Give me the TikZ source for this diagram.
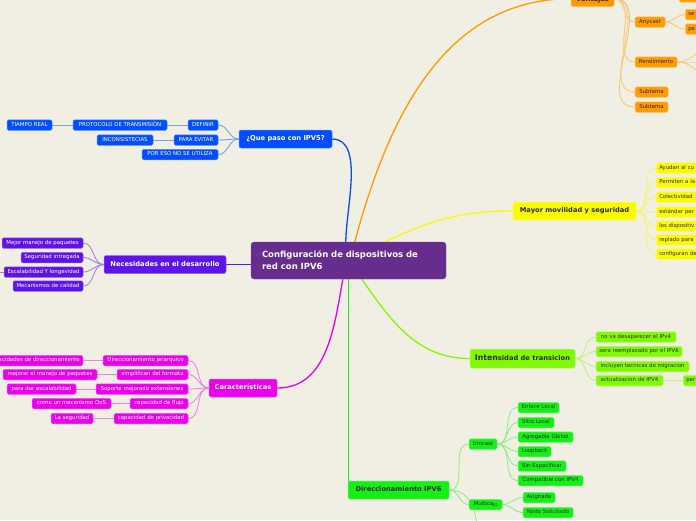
\documentclass[tikz,border=0pt]{standalone}
\usepackage{fontspec}
\setmainfont{DejaVu Sans}
\usetikzlibrary{backgrounds}
\definecolor{bgc}{RGB}{241,238,227}
\definecolor{cen}{RGB}{102,44,142}
\definecolor{cblue}{RGB}{0,78,255}
\definecolor{cviol}{RGB}{94,20,232}
\definecolor{cmag}{RGB}{236,0,236}
\definecolor{corg}{RGB}{255,155,0}
\definecolor{cyel}{RGB}{250,250,0}
\definecolor{clime}{RGB}{128,250,0}
\definecolor{cgrn}{RGB}{20,240,20}
\tikzset{
  box/.style={rounded corners=1.5pt, inner ysep=0pt, inner xsep=3pt, text height=4pt, text depth=1.2pt,
    minimum height=10.5pt, line width=0.5pt, font=\fontsize{5.4}{6.4}\selectfont},
  ttl/.style={rounded corners=2pt, inner ysep=0pt, inner xsep=4pt, text height=5pt, text depth=1.5pt,
    minimum height=18pt, line width=0.5pt, font=\bfseries\fontsize{6.7}{8}\selectfont},
  lt/.style={fill=#1, draw=#1!65!white, text=white},
  dk/.style={fill=#1, draw=#1!60!white, text=black!82},
  cutbox/.style={text width=44pt, align=left},
  cnode/.style={fill=cen, draw=cen!80!white, text=white, rounded corners=3pt,
    font=\bfseries\fontsize{8.5}{12.3}\selectfont, text width=173pt, inner xsep=11pt,
    inner ysep=0pt, minimum height=37pt, align=left},
  mainln/.style={line width=1.3pt},
  subln/.style={line width=0.9pt},
}
\begin{document}
\begin{tikzpicture}[x=1pt,y=-1pt]
\useasboundingbox (0,0) rectangle (696,520);
\begin{scope}[on background layer]
\fill[bgc] (0,0) rectangle (696,520);
\end{scope}

% central
\node[cnode] (c) at (348.5,260.5) {Configuración de dispositivos de\\red con IPV6};

% blue branch
\node[ttl, lt=cblue, minimum width=93pt] (qp) at (285.5,139) {¿Que paso con IPV5?};
\node[box, lt=cblue, minimum width=30pt] (def) at (203,125) {DEFINIR};
\node[box, lt=cblue, minimum width=44pt] (pev) at (196,140) {PARA EVITAR};
\node[box, lt=cblue, minimum width=76pt] (pes) at (180,154.5) {POR ESO NO SE UTILIZA};
\node[box, lt=cblue, minimum width=94pt] (pro) at (120,125) {PROTOCOLO DE TRANSMISIÓN};
\node[box, lt=cblue, minimum width=45pt] (tia) at (29.5,125) {TIAMPO REAL};
\node[box, lt=cblue, minimum width=56pt] (inc) at (125,140) {INCONSISTECIAS};

% violet branch
\node[ttl, lt=cviol, minimum width=122pt] (nec) at (165,264.5) {Necesidades en el desarrollo};
\node[box, lt=cviol, minimum width=81pt] (mej) at (42.5,243) {Mejor manejo de paquetes};
\node[box, lt=cviol, minimum width=62pt] (seg) at (52,257.5) {Seguridad intregada};
\node[box, lt=cviol, minimum width=79pt] (esc) at (43.5,272) {Escalabilidad Y longevidad};
\node[box, lt=cviol, minimum width=70pt] (mec) at (48,286) {Mecanismos de calidad};
\coordinate (escl) at (-10,272);

% magenta branch
\node[ttl, lt=cmag, minimum width=68pt] (car) at (243,388) {Características};
\node[box, lt=cmag, minimum width=85pt] (dj) at (145.5,360.5) {Direccionamiento jerarquico};
\node[box, lt=cmag, minimum width=71pt] (sf) at (152.5,374.5) {simplifican del formato};
\node[box, lt=cmag, minimum width=92pt] (sm) at (142,389) {Soporte mejorado extensiones};
\node[box, lt=cmag, minimum width=58pt] (cf) at (159,403.5) {capacidad de flujo};
\node[box, lt=cmag, minimum width=74pt] (cp) at (151,418.5) {capacidad de privacidad};
\node[box, lt=cmag, anchor=east] (cd) at (83,360.5) {capacidades de direccionamiento};
\node[box, lt=cmag, minimum width=94pt] (mm) at (50,374.5) {mejorar el manejo de paquetes};
\node[box, lt=cmag, minimum width=69pt] (pd) at (41.5,389) {para dar escalabilidad};
\node[box, lt=cmag, minimum width=79pt] (cm) at (71.5,403.5) {como un mecanismo QoS};
\node[box, lt=cmag, minimum width=42pt] (ls) at (72,418.5) {La seguridad};

% orange branch
\node[ttl, dk=corg, minimum width=43pt, minimum height=16pt, text height=8pt] (ven) at (592.5,-1.3) {Ventajas};
\node[box, dk=corg, minimum width=40pt, minimum height=12pt] (trb) at (699,-4) {};
\node[box, dk=corg, minimum width=30pt] (any) at (650,22) {Anycast};
\node[box, dk=corg, cutbox, anchor=west] (se) at (685,14.5) {se};
\node[box, dk=corg, cutbox, anchor=west] (pe) at (685,29) {pe};
\node[box, dk=corg, minimum width=42pt] (ren) at (656,62) {Rendimiento};
\coordinate (rc1) at (722,40);
\coordinate (rc2) at (722,62);
\coordinate (rc3) at (722,84);
\node[box, dk=corg, minimum width=33pt] (st1) at (651.5,92) {Subtema};
\node[box, dk=corg, minimum width=33pt] (st2) at (651.5,107) {Subtema};

% yellow branch
\node[ttl, dk=cyel, minimum width=123pt] (may) at (574.5,211) {Mayor movilidad y seguridad};
\node[box, dk=cyel, cutbox, anchor=west] (y1) at (656,168) {Ayudan al cu};
\node[box, dk=cyel, cutbox, anchor=west] (y2) at (656,182.5) {Permiten a la};
\node[box, dk=cyel, cutbox, anchor=west] (y3) at (656,197) {Colectividad};
\node[box, dk=cyel, cutbox, anchor=west] (y4) at (656,212) {estándar per};
\node[box, dk=cyel, cutbox, anchor=west] (y5) at (656,226) {los dispositiv};
\node[box, dk=cyel, cutbox, anchor=west] (y6) at (656,240) {replado para};
\node[box, dk=cyel, cutbox, anchor=west] (y7) at (656,254) {configuran de};

% lime branch
\node[ttl, dk=clime, minimum width=105pt, minimum height=19pt] (int) at (522.5,358.5)
  {{\fontsize{7.8}{8}\selectfont Inten}sidad de transicion};
\node[box, dk=clime, minimum width=80pt] (l1) at (636,337) {no va desaparecer el IPv4};
\node[box, dk=clime, minimum width=86pt] (l2) at (639,351.5) {sera reemplazado por el IPV6};
\node[box, dk=clime, minimum width=93pt] (l3) at (642.5,366.5) {incluyen tecnicas de migracion};
\node[box, dk=clime, minimum width=67pt] (l4) at (629.5,380.5) {actualizacion de IPV4};
\node[box, dk=clime, cutbox, anchor=west] (per) at (683,380.5) {per};

% green branch
\node[ttl, dk=cgrn, minimum width=101pt] (dir) at (398.5,490) {Direccionamiento IPV6};
\node[box, dk=cgrn, minimum width=28pt] (uni) at (483,444) {Unicast};
\node[box, dk=cgrn, minimum width=33pt] (mul) at (485.5,504.5)
  {Multica{\fontsize{4.4}{5}\selectfont\raisebox{-0.9pt}{st}}};
\coordinate (g3) at (478,565);
\node[box, dk=cgrn, minimum width=41pt] (u1) at (538.5,407.5) {Enlace Local};
\node[box, dk=cgrn, minimum width=36pt] (u2) at (536,422.5) {Sitio Local};
\node[box, dk=cgrn, minimum width=55pt] (u3) at (545.5,437) {Agregable Global};
\node[box, dk=cgrn, minimum width=33pt] (u4) at (534.5,451.5) {Loopback};
\node[box, dk=cgrn, minimum width=48pt] (u5) at (542,466) {Sin-Especificar};
\node[box, dk=cgrn, minimum width=65pt] (u6) at (550.5,480.5) {Compatible con IPV4};
\node[box, dk=cgrn, minimum width=32pt] (m1) at (539,497.5) {Asignada};
\node[box, dk=cgrn, minimum width=50pt] (m2) at (548,512.5) {Nodo Solicitado};

\begin{scope}[on background layer]
% main branches
\draw[mainln, cblue] (qp.east) to[out=0,in=90,looseness=0.8] ([xshift=95pt]c.north west);
\draw[mainln, corg] ([xshift=104pt]c.north west) to[out=75,in=180] (ven.west);
\draw[mainln, cyel] ([xshift=134pt]c.north west) to[out=25,in=180] (may.west);
\draw[mainln, cviol] (nec.east) -- (nec.east -| c.west);
\draw[mainln, cmag] ([xshift=92pt]c.south west) to[out=-100,in=0] (car.east);
\draw[mainln, cgrn] ([xshift=98pt]c.south west) -- ([xshift=98pt]c.south west |- dir.west);
\draw[mainln, clime] ([xshift=111pt]c.south west) to[out=-55,in=180] (int.west);
% blue
\foreach \n in {def,pev,pes} \draw[subln, cblue!50!bgc] (qp.west) to[out=180,in=0] (\n.east);
\draw[subln, cblue!50!bgc] (def.west) -- (pro.east);
\draw[subln, cblue!50!bgc] (pro.west) -- (tia.east);
\draw[subln, cblue!50!bgc] (pev.west) -- (inc.east);
% violet
\foreach \n in {mej,seg,esc,mec} \draw[subln, cviol!50!bgc] (nec.west) to[out=180,in=0] (\n.east);
\draw[subln, cviol!50!bgc] (esc.west) -- (escl);
% magenta
\foreach \n in {dj,sf,sm,cf,cp} \draw[subln, cmag!45!bgc] (car.west) to[out=180,in=0] (\n.east);
\draw[subln, cmag!45!bgc] (dj.west) -- (cd.east);
\draw[subln, cmag!45!bgc] (sf.west) -- (mm.east);
\draw[subln, cmag!45!bgc] (sm.west) -- (pd.east);
\draw[subln, cmag!45!bgc] (cf.west) -- (cm.east);
\draw[subln, cmag!45!bgc] (cp.west) -- (ls.east);
% orange
\foreach \n in {any,ren,st1,st2} \draw[subln, corg!45!bgc] (ven.east) to[out=0,in=180] (\n.west);
\draw[subln, corg!45!bgc] (ven.east) to[out=0,in=180] (trb.west);
\foreach \n in {se,pe} \draw[subln, corg!45!bgc] (any.east) to[out=0,in=180] (\n.west);
\foreach \n in {rc1,rc2,rc3} \draw[subln, corg!45!bgc] (ren.east) to[out=0,in=180] (\n);
% yellow
\foreach \n in {y1,y2,y3,y4,y5,y6,y7} \draw[subln, cyel!50!bgc] (may.east) to[out=0,in=180] (\n.west);
% lime
\foreach \n in {l1,l2,l3,l4} \draw[subln, clime!45!bgc] (int.east) to[out=0,in=180] (\n.west);
\draw[subln, clime!45!bgc] (l4.east) -- (per.west);
% green
\foreach \n in {uni,mul} \draw[subln, cgrn!45!bgc] (dir.east) to[out=0,in=180] (\n.west);
\draw[subln, cgrn!45!bgc] (dir.east) to[out=0,in=90] (g3);
\foreach \n in {u1,u2,u3,u4,u5,u6} \draw[subln, cgrn!45!bgc] (uni.east) to[out=0,in=180] (\n.west);
\foreach \n in {m1,m2} \draw[subln, cgrn!45!bgc] (mul.east) to[out=0,in=180] (\n.west);
\end{scope}
\end{tikzpicture}
\end{document}
